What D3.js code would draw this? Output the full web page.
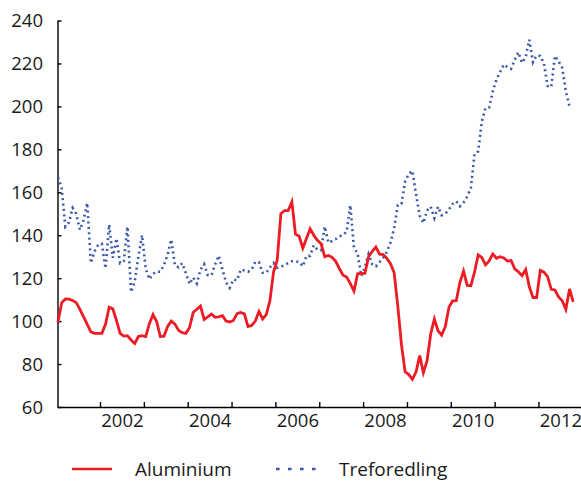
<!DOCTYPE html>
<html>
<head>
<meta charset="utf-8">
<script src="https://cdn.jsdelivr.net/npm/d3@7"></script>
<style>
  body { margin: 0; background: #fff; }
  text { font-family: "Open Sans", sans-serif; fill: #1a1a1a; }
</style>
</head>
<body>
<div id="chart"></div>
<script>
// monthly index values, first value = January 2001
const startYear = 2001;

const aluminium = [
  99.5, 108.5, 110.3, 110.2, 109.6, 108.6, 105.5, 102, 98.5, 95,
  94.3, 94.3, 94.3, 98.5, 106.5, 105.7, 100.3, 94.3, 93, 93.2,
  91.2, 89.6, 92.8, 93.2, 92.8, 98.8, 103, 99.8, 92.8, 93,
  97.5, 100, 98.6, 95.7, 94.6, 94.3, 97, 104, 105.5, 107,
  100.8, 102, 103.3, 101.8, 102, 102.5, 100, 99.6, 100.3, 103.5,
  104, 103.4, 97.5, 98, 100, 104.5, 101, 103, 109.5, 123,
  128.4, 150, 151.5, 151.5, 155.5, 140.5, 139.5, 134, 138.5, 143,
  140, 137.6, 136, 130, 130.6, 129.7, 127.8, 124.5, 121.4, 120.5,
  117.5, 114, 122, 122.2, 122.2, 130, 132.5, 134.5, 131.2, 131,
  129.2, 126.8, 122.5, 107, 89, 76.4, 75.1, 72.9, 76.4, 84,
  76, 81.5, 94, 101, 95.5, 93.5, 97.5, 106.5, 109.4, 109.5,
  118, 123.3, 116.6, 116.5, 122.8, 130.8, 129.6, 126.2, 128, 131.3,
  129.3, 130, 129.4, 128, 128.2, 124.3, 123, 121.2, 124, 116,
  111, 111, 123.6, 122.8, 120.7, 114.8, 114.5, 111.3, 109.5, 105.5,
  115, 109
];

const treforedling = [
  167, 162, 144, 146, 152.7, 150, 142.5, 147, 155, 127,
  132.5, 135.5, 136, 124.5, 145, 129.5, 138.5, 127, 128, 144,
  113.5, 118.5, 130, 140, 124.5, 119.5, 122, 123, 123, 126,
  131, 138, 126, 125, 127, 122.3, 117.2, 120.3, 117.5, 124,
  126.5, 121.4, 121.4, 126.5, 130.5, 124, 118, 115.5, 119.4, 119,
  124, 123.6, 123, 124, 127.6, 127.4, 122.5, 122.5, 125, 127,
  124.8, 125.3, 126, 127, 127.9, 127.9, 127.5, 125.5, 130.4, 130.4,
  135.3, 133.3, 133, 144, 136.5, 137.3, 138.2, 139.3, 140.4, 141.5,
  154, 134, 131.5, 121, 125.2, 131.2, 126.5, 125.5, 127.5, 129.5,
  132.3, 136.5, 143.3, 154, 154.6, 165, 168.5, 170, 159, 149,
  145.7, 151.5, 153.3, 148, 153.3, 149.3, 150, 152, 154.6, 155.8,
  153.5, 155.3, 158, 162, 178, 179, 193, 199.3, 199.6, 207,
  212.5, 216, 219.5, 218.3, 217.5, 221.7, 225.2, 220.3, 223, 231,
  220.6, 223.7, 223.5, 220, 209.5, 209, 223.5, 221, 218, 207,
  200
];

const yTicks = [60, 80, 100, 120, 140, 160, 180, 200, 220, 240];
const yearTicks = [2002, 2003, 2004, 2005, 2006, 2007, 2008, 2009, 2010, 2011, 2012];
const yearLabels = [2002, 2004, 2006, 2008, 2010, 2012];

const seriesNames = ["Aluminium", "Treforedling"];
const seriesColors = ["#ed1c24", "#3b59a8"];

const width = 581, height = 483;

const svg = d3.select("#chart").append("svg")
  .attr("width", width)
  .attr("height", height);

const x = d3.scaleLinear().domain([2001.03, 2012.97]).range([57.5, 581]);
const y = d3.scaleLinear().domain([60, 240]).range([407, 20.5]);

const monthTime = i => startYear + (i + 0.5) / 12;

// y axis, ticks pointing inward
const yAxis = svg.append("g")
  .attr("transform", "translate(57.5,0)")
  .call(d3.axisLeft(y).tickValues(yTicks).tickSizeInner(-4).tickSizeOuter(0).tickPadding(14.5));
yAxis.selectAll("text").style("font-size", "18.5px").attr("dy", "0.35em");

// x axis: year ticks without text
const xAxis = svg.append("g")
  .attr("transform", "translate(0,407)")
  .call(d3.axisBottom(x).tickValues(yearTicks).tickSizeInner(-5).tickSizeOuter(0).tickFormat(""));

// year labels centred inside each labelled year
const xLabels = svg.append("g")
  .attr("transform", "translate(0,407)")
  .call(d3.axisBottom(x).tickValues(yearLabels.map(d => d + 0.5)).tickSize(0).tickPadding(6.5)
    .tickFormat(d => Math.floor(d)));
xLabels.select(".domain").remove();
xLabels.selectAll("text").style("font-size", "18.5px");

svg.selectAll(".domain, .tick line").attr("stroke", "#000").attr("stroke-width", 1.4);

const line = d3.line()
  .x((d, i) => x(monthTime(i)))
  .y(d => y(d));

svg.append("path")
  .datum(treforedling)
  .attr("d", line)
  .attr("fill", "none")
  .attr("stroke", seriesColors[1])
  .attr("stroke-width", 2.6)
  .attr("stroke-dasharray", "2,3.4");

svg.append("path")
  .datum(aluminium)
  .attr("d", line)
  .attr("fill", "none")
  .attr("stroke", seriesColors[0])
  .attr("stroke-width", 2.8);

// legend
const legendX = [72, 276];
const legend = svg.append("g");
seriesNames.forEach((name, i) => {
  legend.append("line")
    .attr("x1", legendX[i]).attr("x2", legendX[i] + 40)
    .attr("y1", 469).attr("y2", 469)
    .attr("stroke", seriesColors[i])
    .attr("stroke-width", 2.6)
    .attr("stroke-dasharray", i === 1 ? "3.6,8.4" : null);
  legend.append("text")
    .attr("x", legendX[i] + 63)
    .attr("y", 476)
    .style("font-size", "19px")
    .text(name);
});
</script>
</body>
</html>
